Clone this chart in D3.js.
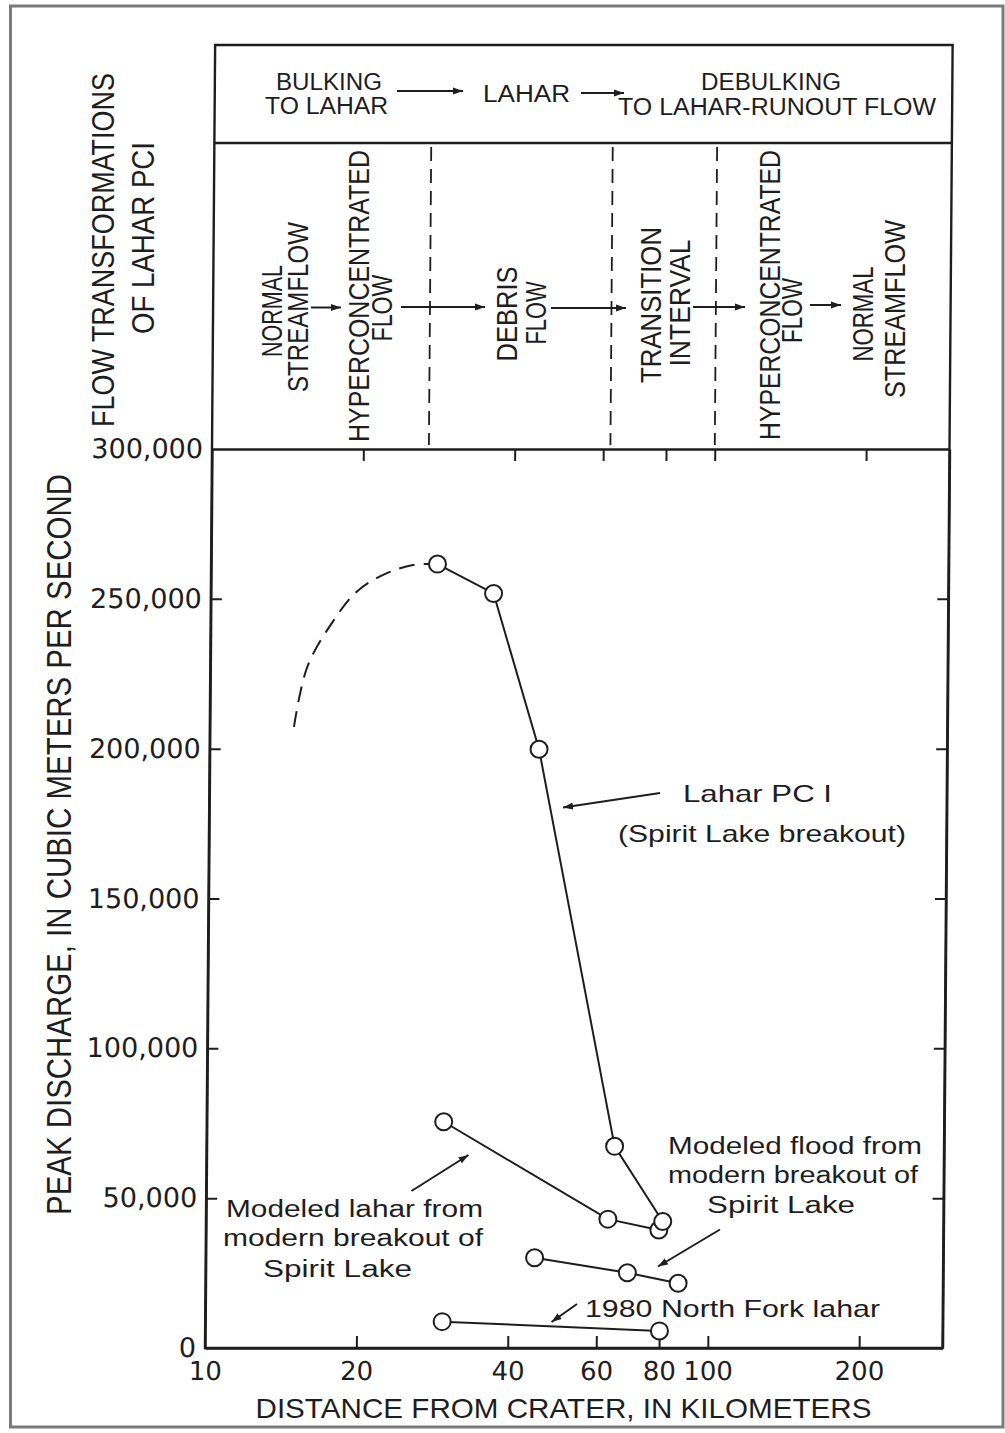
<!DOCTYPE html>
<html>
<head>
<meta charset="utf-8">
<script src="https://cdn.jsdelivr.net/npm/d3@7"></script>
<style>
  html, body { margin: 0; padding: 0; background: #fff; }
  svg { display: block; }
</style>
</head>
<body>
<svg id="chart" width="1005" height="1433"></svg>
<script>
// ---------------------------------------------------------------
// Peak discharge versus distance from crater (km, log scale)
// ---------------------------------------------------------------

// Lahar PC1 (Spirit Lake breakout), measured peaks
const pc1Km = [28.2, 36.5, 45.2, 64.8, 81.0];
const pc1Q  = [261600, 251800, 199800, 67300, 42200];

// Lahar PC1 upstream of the first measured peak (inferred, dashed)
const pc1UpstreamKm = [14.7, 15.6, 17.5, 19.5, 22.0, 25.2, 28.2];
const pc1UpstreamQ  = [207300, 227400, 242400, 252400, 258000, 261300, 261600];

// Modeled lahar from modern breakout of Spirit Lake
const modeledLaharKm = [29.6, 63.0, 79.6];
const modeledLaharQ  = [75500, 43000, 39400];

// Modeled flood from modern breakout of Spirit Lake
const modeledFloodKm = [45.1, 69.0, 87.1];
const modeledFloodQ  = [30100, 25100, 21600];

// 1980 North Fork lahar
const northForkKm = [29.6, 80.1];
const northForkQ  = [8800, 5700];

// Axis ticks
const xTickValues = [10, 20, 40, 60, 80, 100, 200];
const xTickLabels = ["10", "20", "40", "60", "80", "100", "200"];
const yTickValues = [0, 50000, 100000, 150000, 200000, 250000, 300000];
const yTickLabels = ["0", "50,000", "100,000", "150,000", "200,000", "250,000", "300,000"];

// Flow-transformation panel
const phaseBoundariesKm = [27, 62, 100];
const stageHeader = [["BULKING", "TO LAHAR"], ["LAHAR"], ["DEBULKING", "TO LAHAR-RUNOUT FLOW"]];
const flowStages = [
  ["NORMAL", "STREAMFLOW"],
  ["HYPERCONCENTRATED", "FLOW"],
  ["DEBRIS", "FLOW"],
  ["TRANSITION", "INTERVAL"],
  ["HYPERCONCENTRATED", "FLOW"],
  ["NORMAL", "STREAMFLOW"]
];

// ---------------------------------------------------------------
const LETTER = "'Liberation Sans', Arial, sans-serif";
const DIGIT = "'DejaVu Sans', 'Liberation Sans', sans-serif";
const INK = "#1e1e1e";

const P = { left: 208.5, right: 946, top: 449, bottom: 1348, boxTop: 45, boxMid: 143 };

const x = d3.scaleLog().domain([10, 293]).range([P.left, P.right]);
const y = d3.scaleLinear().domain([0, 300000]).range([P.bottom, P.top]);

const svg = d3.select("#chart");

// arrowhead
svg.append("defs").append("marker")
  .attr("id", "head")
  .attr("markerUnits", "userSpaceOnUse")
  .attr("markerWidth", 11).attr("markerHeight", 8)
  .attr("refX", 10).attr("refY", 4)
  .attr("orient", "auto")
  .append("path")
  .attr("d", "M0,0.5 L10,4 L0,7.5 Z")
  .attr("fill", INK);

// page frame
svg.append("rect")
  .attr("x", 10.5).attr("y", 6).attr("width", 992.5).attr("height", 1421)
  .attr("fill", "#fff").attr("stroke", "#7a7a7a").attr("stroke-width", 3);

// the drawing leans slightly, as drafted
const fig = svg.append("g")
  .attr("transform", "translate(0,898) skewX(-0.446) translate(0,-898)");

// ---- flow-transformation box above the plot
fig.append("rect")
  .attr("x", P.left).attr("y", P.boxTop)
  .attr("width", P.right - P.left).attr("height", P.bottom - P.boxTop)
  .attr("fill", "none").attr("stroke", INK).attr("stroke-width", 2.4);
fig.append("line")
  .attr("x1", P.left).attr("x2", P.right)
  .attr("y1", P.boxMid).attr("y2", P.boxMid)
  .attr("stroke", INK).attr("stroke-width", 2.4);

fig.selectAll("line.phase").data(phaseBoundariesKm).join("line")
  .attr("class", "phase")
  .attr("x1", d => x(d)).attr("x2", d => x(d))
  .attr("y1", P.boxMid + 4).attr("y2", P.top - 4)
  .attr("stroke", INK).attr("stroke-width", 1.8)
  .attr("stroke-dasharray", "14,8");

// ---- axes
const axisBottom = d3.axisBottom(x)
  .tickValues(xTickValues)
  .tickFormat((d, i) => xTickLabels[i])
  .tickSizeInner(-12).tickSizeOuter(0).tickPadding(14);
const axisTop = d3.axisTop(x)
  .tickValues(xTickValues.slice(1))
  .tickFormat("")
  .tickSizeInner(-12).tickSizeOuter(0);
const axisLeft = d3.axisLeft(y)
  .tickValues(yTickValues)
  .tickFormat((d, i) => yTickLabels[i])
  .tickSizeInner(-11).tickSizeOuter(0).tickPadding(9);
const axisRight = d3.axisRight(y)
  .tickValues(yTickValues)
  .tickFormat("")
  .tickSizeInner(-11).tickSizeOuter(0);

function styleAxis(g, size) {
  g.select(".domain").attr("stroke", INK).attr("stroke-width", 2.4);
  g.selectAll(".tick line").attr("stroke", INK).attr("stroke-width", 2);
  g.selectAll(".tick text")
    .attr("fill", INK)
    .attr("font-family", DIGIT)
    .attr("font-size", size);
}

fig.append("g").attr("transform", `translate(0,${P.bottom})`).call(axisBottom).call(g => styleAxis(g, 26));
fig.append("g").attr("transform", `translate(0,${P.top})`).call(axisTop).call(g => styleAxis(g, 26));
fig.append("g").attr("transform", `translate(${P.left},0)`).call(axisLeft).call(g => styleAxis(g, 27));
fig.append("g").attr("transform", `translate(${P.right},0)`).call(axisRight).call(g => styleAxis(g, 27));
// the "10" tick coincides with the left axis line: hide its tick mark
fig.selectAll(".tick").filter(d => d === 10).select("line").remove();
fig.selectAll(".tick").filter(d => d === 0 || d === 300000).select("line").remove();

// ---- series
const toPts = (km, q) => km.map((k, i) => [k, q[i]]);
const lineGen = d3.line().x(d => x(d[0])).y(d => y(d[1]));

const series = [
  toPts(modeledLaharKm, modeledLaharQ),
  toPts(modeledFloodKm, modeledFloodQ),
  toPts(northForkKm, northForkQ),
  toPts(pc1Km, pc1Q)
];

fig.append("path")
  .datum(toPts(pc1UpstreamKm, pc1UpstreamQ))
  .attr("d", d3.line().x(d => x(d[0])).y(d => y(d[1])).curve(d3.curveCatmullRom.alpha(0.5)))
  .attr("fill", "none").attr("stroke", INK).attr("stroke-width", 2)
  .attr("stroke-dasharray", "16,9");

series.forEach(pts => {
  fig.append("path").datum(pts)
    .attr("d", lineGen)
    .attr("fill", "none").attr("stroke", INK).attr("stroke-width", 2);
});
series.forEach(pts => {
  fig.append("g").selectAll("circle").data(pts).join("circle")
    .attr("cx", d => x(d[0])).attr("cy", d => y(d[1]))
    .attr("r", 8.5)
    .attr("fill", "#fff").attr("stroke", INK).attr("stroke-width", 2);
});

// ---- lettering (placed on the page)
const ann = svg.append("g").attr("fill", INK).attr("font-family", LETTER);

function text(str, px, py, size, len, opts = {}) {
  const t = ann.append("text")
    .attr("text-anchor", opts.anchor || "middle")
    .attr("font-size", size)
    .text(str);
  if (opts.rotate) {
    t.attr("transform", `translate(${px},${py}) rotate(-90)`);
  } else {
    t.attr("x", px).attr("y", py);
  }
  if (len) t.attr("textLength", len).attr("lengthAdjust", "spacingAndGlyphs");
  if (opts.font) t.attr("font-family", opts.font);
  return t;
}

function arrow(x1, y1, x2, y2, w = 2) {
  ann.append("line")
    .attr("x1", x1).attr("y1", y1).attr("x2", x2).attr("y2", y2)
    .attr("stroke", INK).attr("stroke-width", w)
    .attr("marker-end", "url(#head)");
}

// header row: bulking -> lahar -> debulking
text(stageHeader[0][0], 329, 89.5, 23, 106);
text(stageHeader[0][1], 326.5, 114, 23, 123);
text(stageHeader[1][0], 526.5, 101.5, 23, 87);
text(stageHeader[2][0], 771, 89.5, 23, 140);
text(stageHeader[2][1], 777, 115, 23, 318);
arrow(397, 91, 463, 91);
arrow(581, 93, 624, 93);

// flow stages, written vertically: [baseline x of each line, centre y, lengths]
const stageLayout = [
  { bx: [282, 308],   cy: [311, 307],   len: [92, 170] },
  { bx: [369, 391.5], cy: [296, 308],   len: [292, 67] },
  { bx: [517, 545.5], cy: [314, 313],   len: [95, 63] },
  { bx: [661, 690],   cy: [305, 303],   len: [156, 127] },
  { bx: [780, 802],   cy: [295, 310.5], len: [290, 65] },
  { bx: [873, 905],   cy: [314, 309],   len: [95, 178] }
];
flowStages.forEach((lines, i) => {
  lines.forEach((s, j) => {
    text(s, stageLayout[i].bx[j], stageLayout[i].cy[j], 30, stageLayout[i].len[j], { rotate: true });
  });
});
arrow(311, 307.5, 341, 307.5);
arrow(401, 307, 485, 307);
arrow(551, 308, 626, 308);
arrow(693, 307, 745, 307);
arrow(810, 305, 841, 305);

// panel titles
text("FLOW TRANSFORMATIONS", 113.5, 250, 31, 354, { rotate: true });
text("OF LAHAR PCI", 154, 238, 31, 192, { rotate: true });
text("PEAK DISCHARGE, IN CUBIC METERS PER SECOND", 70.5, 844.5, 35, 741, { rotate: true });
text("DISTANCE FROM CRATER, IN KILOMETERS", 563.5, 1418, 28, 616);

// series notes
text("Lahar PC I", 683, 801.5, 24, 149, { anchor: "start" });
text("(Spirit Lake breakout)", 618, 841.5, 24, 288, { anchor: "start" });
arrow(660, 793, 563, 807.5);

text("Modeled lahar from", 226, 1216.5, 23, 257, { anchor: "start" });
text("modern breakout of", 223, 1246, 23, 260, { anchor: "start" });
text("Spirit Lake", 263, 1276.5, 23, 149, { anchor: "start" });
arrow(411.5, 1191, 468.5, 1155);

text("Modeled flood from", 668, 1154, 23, 254, { anchor: "start" });
text("modern breakout of", 668, 1183, 23, 250, { anchor: "start" });
text("Spirit Lake", 707, 1213, 23, 148, { anchor: "start" });
arrow(720, 1229.5, 658, 1266.5);

text("1980 North Fork lahar", 585, 1317, 24, 295, { anchor: "start" });
arrow(577, 1304, 551.5, 1322);
</script>
</body>
</html>
